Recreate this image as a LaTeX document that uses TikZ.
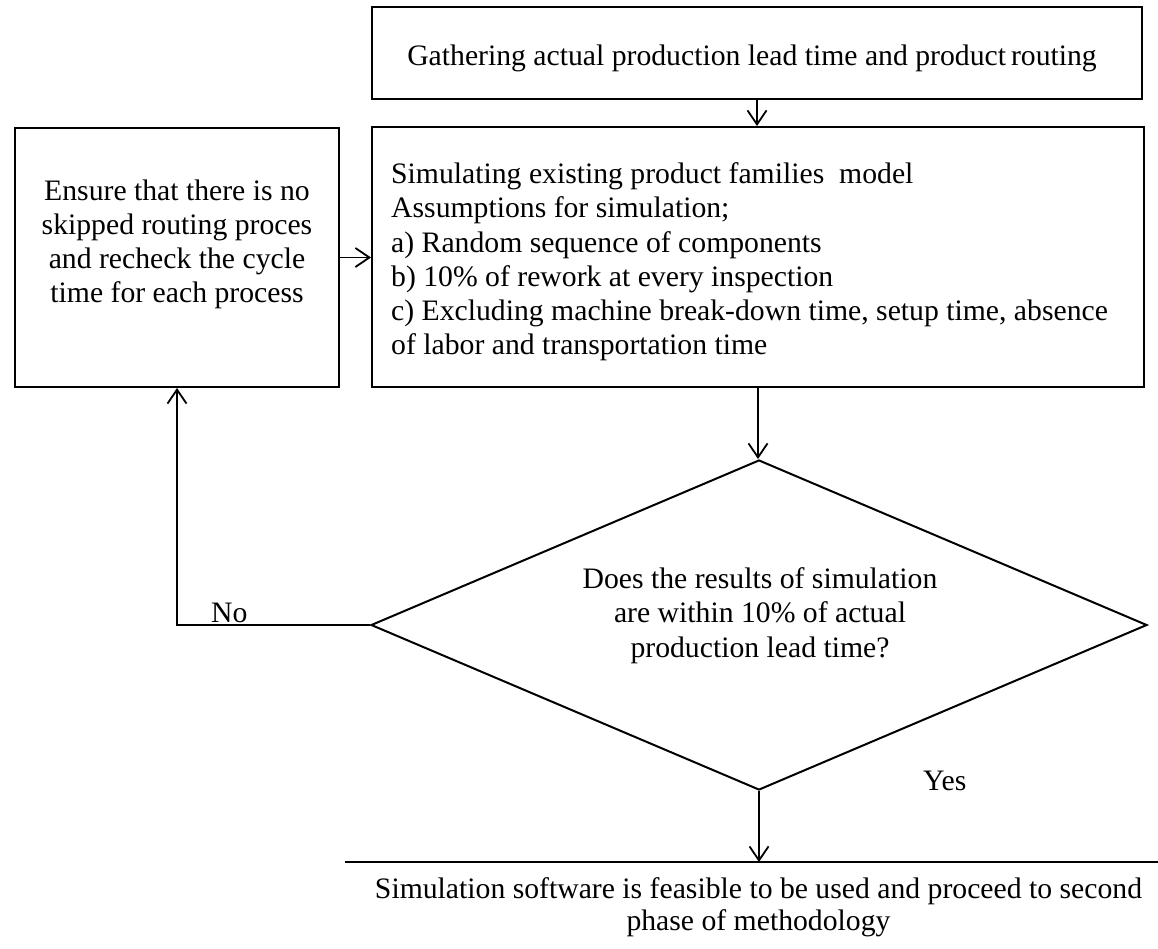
\documentclass[tikz,border=0pt]{standalone}
\usepackage{fontspec}
\setmainfont{Liberation Serif}
\usetikzlibrary{arrows.meta,shapes.geometric}
\begin{document}
\begin{tikzpicture}[x=1pt,y=-1pt,
  box/.style={draw, line width=2pt, inner sep=0pt},
  conn/.style={line width=1.8pt},
  arr/.style={conn, -{Straight Barb[length=14pt,width=19pt,line width=1.8pt]}},
  txt/.style={font=\fontsize{29.7}{34.2}\selectfont, inner sep=0pt}]
\useasboundingbox (0,0) rectangle (1158,948);
% boxes
\node[box, minimum width=770pt, minimum height=92pt] (top) at (757,53) {};
\node[box, minimum width=772pt, minimum height=260pt] (mid) at (758,257) {};
\node[box, minimum width=324pt, minimum height=259pt] (left) at (177,257.5) {};
\node[draw, line width=2pt, shape=diamond, inner sep=0pt, shape aspect=2.35,
      minimum width=776pt, minimum height=330pt] (dec) at (759,625) {};
\coordinate (bl) at (345,862);
\coordinate (br) at (1158,862);
\draw[box] (bl) -- (br);
% texts
\node[txt, anchor=base] (toptext) at (752,65) {Gathering actual production lead time and product\,routing};
\node[txt, anchor=north west, align=left] (midtext) at (391,162.5) {Simulating existing product families\ \ model\\
Assumptions for simulation;\\
a) Random sequence of components\\
b) 10\% of rework at every inspection\\
c) Excluding machine break-down time, setup time, absence\\
of labor and transportation time};
\node[txt, anchor=north, align=center] (lefttext) at (177,179.5) {Ensure that there is no\\
skipped routing proces\\
and recheck the cycle\\
time for each process};
\node[txt, anchor=north, align=center] (dectext) at (760,567.5) {Does the results of simulation\\
are within 10\% of actual\\
production lead time?};
\node[txt, anchor=north, align=center, font=\fontsize{29.7}{32}\selectfont] (bottext) at (758.5,877.5) {Simulation software is feasible to be used and proceed to second\\
phase of methodology};
\node[txt, anchor=base west] (no) at (211,622) {No};
\node[txt, anchor=base west] (yes) at (923,790) {Yes};
% connectors
\draw[arr] (top.south) -- (top.south |- mid.north);
\draw[arr] (left.east) -- (left.east -| mid.west);
\draw[arr] (mid.south) -- (mid.south |- dec.north);
\draw[arr] (dec.west) -| (left.south);
\draw[arr] (dec.south) -- (dec.south |- bl);
\end{tikzpicture}
\end{document}
